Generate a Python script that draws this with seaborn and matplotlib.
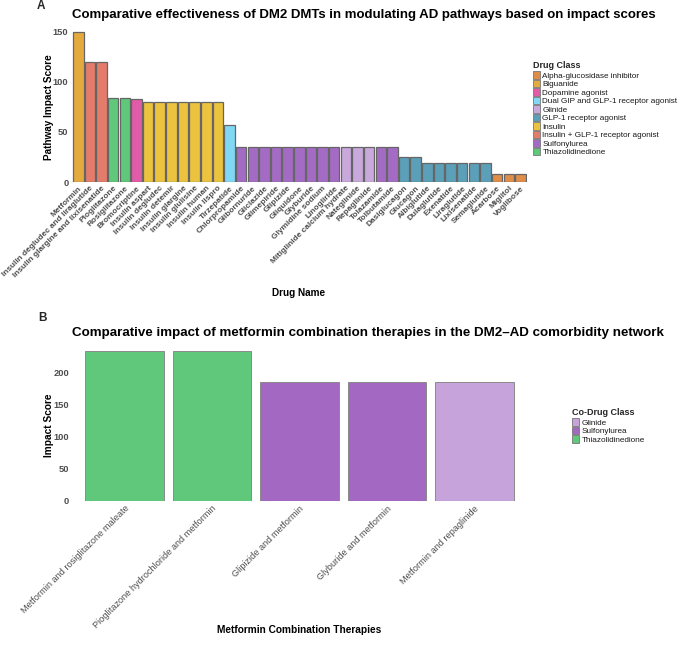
import matplotlib
matplotlib.use("Agg")
import matplotlib.pyplot as plt
import seaborn as sns
import pandas as pd
from matplotlib.patches import Patch

sns.set_theme(style="white")
plt.rcParams['font.family'] = ['Liberation Sans', 'DejaVu Sans']

# ---------------- Panel A data ----------------
drugs_a = ["Metformin", "Insulin degludec and liraglutide", "Insulin glargine and lixisenatide",
           "Pioglitazone", "Rosiglitazone", "Bromocriptine",
           "Insulin aspart", "Insulin degludec", "Insulin detemir", "Insulin glargine",
           "Insulin glulisine", "Insulin human", "Insulin lispro", "Tirzepatide",
           "Chlorpropamide", "Glibornuride", "Gliclazide", "Glimepiride", "Glipizide",
           "Gliquidone", "Glyburide", "Glymidine sodium", "Linogliride",
           "Mitiglinide calcium hydrate", "Nateglinide", "Repaglinide",
           "Tolazamide", "Tolbutamide", "Dasiglucagon", "Glucagon",
           "Albiglutide", "Dulaglutide", "Exenatide", "Liraglutide", "Lixisenatide",
           "Semaglutide", "Acarbose", "Miglitol", "Voglibose"]
scores_a = [150, 120, 120, 84, 84, 83, 80, 80, 80, 80, 80, 80, 80, 57,
            35, 35, 35, 35, 35, 35, 35, 35, 35, 35, 35, 35, 35, 35,
            25, 25, 19, 19, 19, 19, 19, 19, 8, 8, 8]
classes_a = ["Biguanide", "Insulin + GLP-1 receptor agonist", "Insulin + GLP-1 receptor agonist",
             "Thiazolidinedione", "Thiazolidinedione", "Dopamine agonist"] + ["Insulin"] * 7 + \
            ["Dual GIP and GLP-1 receptor agonist"] + ["Sulfonylurea"] * 9 + ["Glinide"] * 3 + \
            ["Sulfonylurea"] * 2 + ["GLP-1 receptor agonist"] * 8 + ["Alpha-glucosidase inhibitor"] * 3

class_names = ["Alpha-glucosidase inhibitor", "Biguanide", "Dopamine agonist",
               "Dual GIP and GLP-1 receptor agonist", "Glinide", "GLP-1 receptor agonist",
               "Insulin", "Insulin + GLP-1 receptor agonist", "Sulfonylurea", "Thiazolidinedione"]
class_colors = ["#DE8E48", "#E5AA3E", "#E05BA8", "#80D8F5", "#C9A8DC", "#5BA0B8",
                "#EBC33F", "#E47C6B", "#A46BC4", "#60C87A"]

# ---------------- Panel B data ----------------
combos_b = ["Metformin and rosiglitazone maleate", "Pioglitazone hydrochloride and metformin",
            "Glipizide and metformin", "Glyburide and metformin", "Metformin and repaglinide"]
scores_b = [234, 234, 185, 185, 185]
classes_b = ["Thiazolidinedione", "Thiazolidinedione", "Sulfonylurea", "Sulfonylurea", "Glinide"]
co_names = ["Glinide", "Sulfonylurea", "Thiazolidinedione"]
co_colors = ["#C6A4DB", "#A368C1", "#60C87A"]

W, H = 685, 648
fig = plt.figure(figsize=(W / 100, H / 100), dpi=100)
fig.patch.set_facecolor("white")

def fx(px):
    return px / W

def fy(py):
    return 1 - py / H

tick_gray = "#4D4D4D"
LEG_FS = 5.9

def make_legend(handles, labels, title, x, y):
    leg = fig.legend(handles, labels, title=title, loc="upper left",
                     bbox_to_anchor=(fx(x), fy(y)), frameon=False, fontsize=LEG_FS,
                     title_fontproperties={"weight": "bold", "size": 6.5},
                     labelspacing=0.0, handlelength=0.85, handleheight=1.0,
                     handletextpad=0.3, borderpad=0, borderaxespad=0)
    leg._legend_box.align = "left"
    leg._legend_box.sep = 1
    for t in leg.get_texts():
        t.set_color("#1a1a1a")
    return leg

# ---------------- Panel A ----------------
axA = fig.add_axes([fx(71.3), fy(182), fx(527.4) - fx(71.3), fy(30.2) - fy(182)])
dfA = pd.DataFrame({"drug": drugs_a, "score": scores_a, "cls": classes_a})
palA = dict(zip(class_names, class_colors))
sns.barplot(data=dfA, x="drug", y="score", hue="cls", order=drugs_a, hue_order=class_names,
            palette=palA, dodge=False, width=0.9, edgecolor="#666666", linewidth=0.9,
            saturation=1, ax=axA, legend=False)
axA.set_xlim(-0.6, len(drugs_a) - 0.4)
axA.set_ylim(0, 151.5)
axA.set_yticks([0, 50, 100, 150])
for s in axA.spines.values():
    s.set_visible(False)
axA.tick_params(axis="both", length=0, pad=2)
axA.set_xticks(range(len(drugs_a)))
axA.set_xticklabels(drugs_a, rotation=45, ha="right", rotation_mode="anchor",
                    fontsize=5.95, fontweight="bold", color=tick_gray)
for t in axA.get_yticklabels():
    t.set_fontsize(6.7)
    t.set_fontweight("bold")
    t.set_color(tick_gray)
axA.set_xlabel("")
axA.set_ylabel("")
fig.text(fx(49), fy(107), "Pathway Impact Score", rotation=90, ha="center", va="center",
         fontsize=7.2, fontweight="bold", color="black")
fig.text(fx(299), fy(293), "Drug Name", ha="center", va="center",
         fontsize=7.2, fontweight="bold", color="black")
fig.text(fx(72.5), fy(15), "Comparative effectiveness of DM2 DMTs in modulating AD pathways based on impact scores",
         ha="left", va="center", fontsize=9.55, fontweight="bold", color="black")
fig.text(fx(37), fy(6), "A", ha="left", va="center", fontsize=8.5, fontweight="bold")

handlesA = [Patch(facecolor=c, edgecolor="#777777", linewidth=0.6) for c in class_colors]
make_legend(handlesA, class_names, "Drug Class", 533, 61)

# ---------------- Panel B ----------------
axB = fig.add_axes([fx(71.9), fy(501), fx(527) - fx(71.9), fy(347) - fy(501)])
dfB = pd.DataFrame({"combo": combos_b, "score": scores_b, "cls": classes_b})
palB = dict(zip(co_names, co_colors))
sns.barplot(data=dfB, x="combo", y="score", hue="cls", order=combos_b, hue_order=co_names,
            palette=palB, dodge=False, width=0.9, edgecolor="#8a8a8a", linewidth=0.7,
            saturation=1, ax=axB, legend=False)
axB.set_xlim(-0.6, len(combos_b) - 0.4)
axB.set_ylim(0, 240)
axB.set_yticks([0, 50, 100, 150, 200])
for s in axB.spines.values():
    s.set_visible(False)
axB.tick_params(axis="both", length=0, pad=2)
axB.set_xticks(range(len(combos_b)))
axB.set_xticklabels(combos_b, rotation=45, ha="right", rotation_mode="anchor",
                    fontsize=6.6, color=tick_gray)
for t in axB.get_yticklabels():
    t.set_fontsize(6.7)
    t.set_fontweight("bold")
    t.set_color(tick_gray)
axB.set_xlabel("")
axB.set_ylabel("")
fig.text(fx(49), fy(425), "Impact Score", rotation=90, ha="center", va="center",
         fontsize=7.3, fontweight="bold", color="black")
fig.text(fx(299), fy(630), "Metformin Combination Therapies", ha="center", va="center",
         fontsize=7.3, fontweight="bold", color="black")
fig.text(fx(72), fy(333), "Comparative impact of metformin combination therapies in the DM2\u2013AD comorbidity network",
         ha="left", va="center", fontsize=9.65, fontweight="bold", color="black")
fig.text(fx(38), fy(318), "B", ha="left", va="center", fontsize=8.5, fontweight="bold")

handlesB = [Patch(facecolor=c, edgecolor="#777777", linewidth=0.6) for c in co_colors]
make_legend(handlesB, co_names, "Co-Drug Class", 572, 408)

fig.savefig("out.png", dpi=100, facecolor="white")
